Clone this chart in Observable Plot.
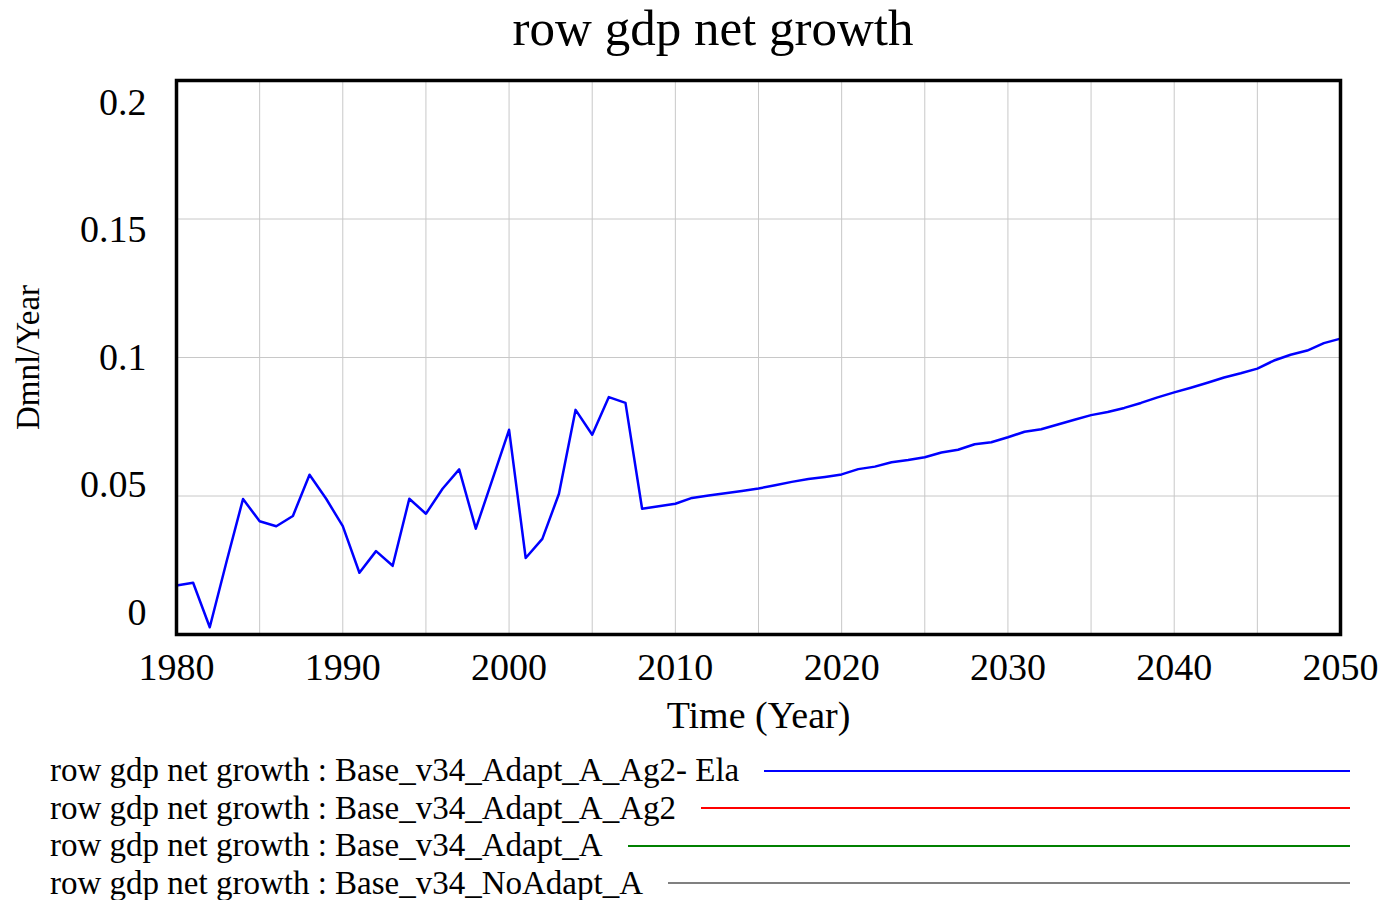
<!DOCTYPE html>
<html>
<head>
<meta charset="utf-8">
<script src="https://cdn.jsdelivr.net/npm/d3@7"></script>
<script src="https://cdn.jsdelivr.net/npm/@observablehq/plot@0.6"></script>
<style>
  body { margin: 0; background: #fff; font-family: "Liberation Serif", "Times New Roman", serif; }
  #title { height: 60px; line-height: 56px; text-align: center; font-size: 51px; color: #000; padding-left: 40px; }
  #chart svg, #chart svg text { font-family: "Liberation Serif", "Times New Roman", serif !important; }
  #legend { margin-top: 12px; }
  .row { display: flex; align-items: center; height: 37.5px; padding-left: 50px; padding-right: 36px; font-size: 33px; color: #000; }
  .row .sw { flex: 1; height: 2px; margin-left: 25px; }
</style>
</head>
<body>
<div id="title">row gdp net growth</div>
<div id="chart"></div>
<div id="legend"></div>
<script>
const years = d3.range(1980, 2051);
const growth = [
  0.0177, 0.0187, 0.0026, 0.0261, 0.0489, 0.0409, 0.0391, 0.0428, 0.0577, 0.0490,
  0.0391, 0.0223, 0.0301, 0.0248, 0.0490, 0.0436, 0.0526, 0.0596, 0.0382, 0.0560,
  0.0739, 0.0276, 0.0345, 0.0508, 0.0811, 0.0721, 0.0857, 0.0836, 0.0454, 0.0463,
  0.0472, 0.0493, 0.0502, 0.0510, 0.0518, 0.0527, 0.0539, 0.0551, 0.0561, 0.0569,
  0.0578, 0.0597, 0.0606, 0.0622, 0.0630, 0.0640, 0.0657, 0.0667, 0.0687, 0.0694,
  0.0712, 0.0732, 0.0741, 0.0758, 0.0775, 0.0792, 0.0803, 0.0818, 0.0836, 0.0856,
  0.0874, 0.0891, 0.0909, 0.0928, 0.0943, 0.0960, 0.0989, 0.1010, 0.1025, 0.1052,
  0.1068
];
const seriesNames = [
  "row gdp net growth : Base_v34_Adapt_A_Ag2- Ela",
  "row gdp net growth : Base_v34_Adapt_A_Ag2",
  "row gdp net growth : Base_v34_Adapt_A",
  "row gdp net growth : Base_v34_NoAdapt_A"
];
const seriesColors = ["#0000ff", "#ff0000", "#008000", "#808080"];
const xTicks = d3.range(1980, 2051, 10);
const xGrid = d3.range(1980, 2051, 5);
const yTicks = [0, 0.05, 0.1, 0.15, 0.2];

const data = years.map((y, i) => ({year: y, value: growth[i]}));
const font = "Liberation Serif";

const yAxes = yTicks.map(t => Plot.axisY([t], {
  tickSize: 0, tickPadding: 30, fontSize: 38, fontFamily: font,
  tickFormat: d => String(d), label: null,
  dy: -22 + 220 * t
}));

const chart = Plot.plot({
  width: 1386,
  height: 680,
  marginTop: 20,
  marginBottom: 106,
  marginLeft: 176,
  marginRight: 46,
  style: {fontFamily: font, color: "#000", background: "#fff"},
  x: {domain: [1980, 2050]},
  y: {domain: [0, 0.2]},
  marks: [
    Plot.gridX(xGrid, {stroke: "#c8c8c8", strokeOpacity: 1, strokeWidth: 1}),
    Plot.gridY([0.05, 0.1, 0.15], {stroke: "#c8c8c8", strokeOpacity: 1, strokeWidth: 1}),
    Plot.line(data, {x: "year", y: "value", stroke: seriesColors[0], strokeWidth: 2.5}),
    Plot.frame({stroke: "#000", strokeWidth: 3.5}),
    Plot.axisX(xTicks, {tickSize: 0, tickPadding: 19, fontSize: 38, fontFamily: font,
      tickFormat: d => String(d), label: "Time (Year)", labelAnchor: "center",
      labelArrow: "none", labelOffset: 93}),
    ...yAxes,
    Plot.text(["Dmnl/Year"], {frameAnchor: "left", textAnchor: "middle", rotate: -90, dx: -148, fontSize: 33, fontFamily: font, fill: "#000"})
  ]
});
chart.querySelectorAll("[aria-label='x-axis label'] text").forEach(t => t.setAttribute("font-size", 38));
document.getElementById("chart").appendChild(chart);

const legend = document.getElementById("legend");
seriesNames.forEach((n, i) => {
  const row = document.createElement("div");
  row.className = "row";
  const span = document.createElement("span");
  span.textContent = n;
  const sw = document.createElement("div");
  sw.className = "sw";
  sw.style.background = seriesColors[i];
  row.appendChild(span);
  row.appendChild(sw);
  legend.appendChild(row);
});
</script>
</body>
</html>
